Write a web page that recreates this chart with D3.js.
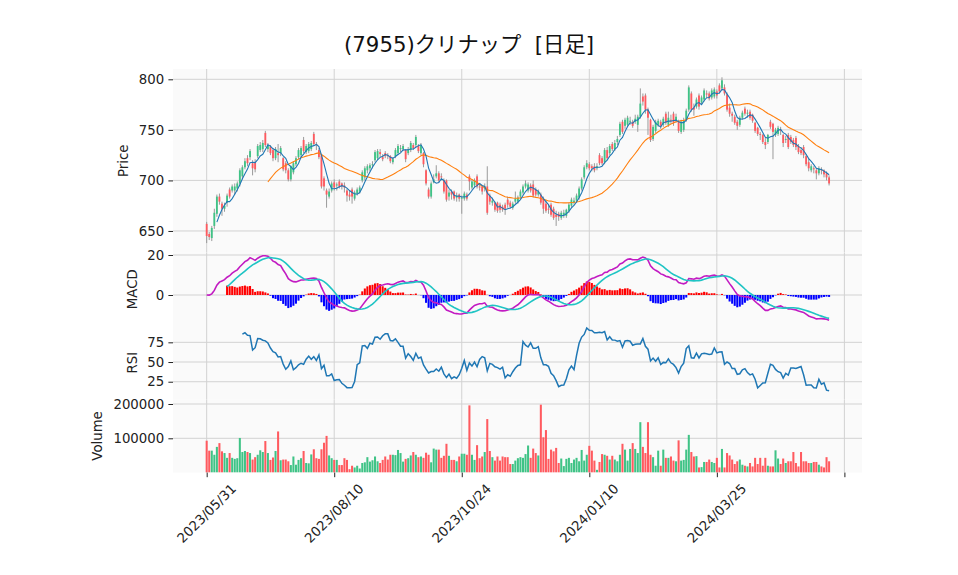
<!DOCTYPE html>
<html><head><meta charset="utf-8">
<script src="https://cdn.jsdelivr.net/npm/d3@7"></script>
<style>
body{margin:0;background:#fff;}
svg text{font-family:"DejaVu Sans","Noto Sans CJK JP",sans-serif;}
</style></head>
<body><svg id="c" width="958" height="575"></svg>
<script>
const title = "(7955)クリナップ  [日足]";
const tickIdx = [0, 50, 100, 150, 200, 250];
const tickLabels = ["2023/05/31", "2023/08/10", "2023/10/24", "2024/01/10", "2024/03/25", ""];
const priceTicks = [650, 700, 750, 800];
const macdTicks = [0, 20];
const rsiTicks = [25, 50, 75];
const volTicks = [100000, 200000];

const opens = [
657,647,643,655,667,684,677,672,678,691, 690,690,692,697,704,713,722,723,717,718,
724,730,731,747,731,733,730,722,727,727, 722,717,710,701,708,716,723,725,740,728,
729,731,746,736,730,725,702,690,684,690, 698,695,699,697,695,690,686,691,682,687,
689,700,703,710,712,715,720,722,728,723, 727,725,724,718,724,727,731,731,730,727,
730,735,735,734,727,727,710,691,684,698, 704,707,704,700,700,684,689,689,683,686,
682,682,686,704,693,695,704,694,694,692, 694,685,678,678,678,676,674,676,681,678,
673,679,679,684,688,694,690,695,696,691, 686,686,682,677,672,676,672,666,667,663,
666,665,670,675,678,680,683,692,703,713, 716,714,714,712,725,722,718,730,727,736,
731,738,745,758,754,755,758,758,758,755, 763,783,784,770,760,741,749,755,758,755,
766,755,760,766,759,758,748,750,760,770, 786,772,773,784,777,780,786,786,782,783,
788,794,791,792,785,772,766,763,758,755, 762,771,766,768,765,757,752,746,745,738,
738,758,756,745,746,750,745,740,745,743, 740,742,734,730,733,724,718,710,712,710,
707,711,710,707,703];
const highs = [
659,649,655,672,686,687,679,678,687,693, 696,697,699,712,715,722,725,731,720,721,
736,738,740,749,737,735,732,733,736,734, 723,719,712,715,719,724,732,734,743,736,
738,739,748,738,732,726,704,692,692,699, 701,698,701,698,698,692,690,693,690,693,
695,710,714,716,717,719,730,731,731,726, 729,727,725,723,732,736,735,736,731,733,
739,737,745,736,737,728,711,693,699,706, 715,709,707,702,701,691,691,690,688,687,
685,689,688,706,701,702,706,697,695,697, 714,687,683,679,679,678,676,678,684,680,
679,689,685,691,696,700,698,697,700,693, 691,688,684,680,676,678,674,670,669,670,
671,672,678,683,683,687,694,703,715,720, 718,716,717,717,727,724,732,733,736,738,
740,744,758,760,762,764,763,760,765,765, 791,786,786,772,761,755,760,761,760,763,
768,768,765,768,766,760,760,762,771,794, 788,776,782,786,784,791,789,788,791,792,
790,796,802,795,787,776,768,765,760,764, 769,773,770,770,766,758,753,748,746,742,
746,760,757,752,754,753,746,744,747,745, 742,744,736,733,735,726,722,716,714,712,
714,713,711,709,705];
const lows = [
638,641,640,652,664,676,665,669,674,682, 688,686,689,694,701,711,714,720,705,708,
722,728,728,733,728,725,719,720,718,724, 709,707,699,699,706,714,721,723,727,726,
727,729,734,730,721,692,690,673,682,688, 690,690,692,691,688,679,680,677,680,685,
687,698,700,707,709,712,718,720,723,719, 722,721,717,716,722,725,728,729,718,725,
728,730,733,727,725,713,695,682,682,697, 702,698,700,687,679,680,681,680,679,679,
667,680,680,690,691,693,692,690,686,689, 666,676,675,669,668,668,669,666,673,672,
671,677,677,682,686,692,688,688,683,684, 684,676,667,668,667,664,661,655,660,661,
663,663,668,673,676,678,681,690,701,711, 710,709,708,710,715,715,716,720,725,729,
729,735,743,746,751,753,755,752,756,748, 761,774,766,745,738,739,747,753,751,753,
755,753,756,754,757,747,746,748,758,768, 768,764,771,770,775,778,782,779,780,781,
781,786,789,784,768,763,758,755,750,753, 760,764,762,760,757,747,744,740,736,731,
736,751,721,743,744,745,733,737,731,736, 733,730,726,725,722,714,709,708,707,701,
705,706,703,700,695];
const closes = [
645,644,653,668,684,679,672,675,685,684, 694,694,697,710,713,719,717,729,712,711,
734,735,737,735,735,727,722,731,725,732, 711,710,701,714,717,722,730,732,729,734,
736,737,736,735,723,694,694,686,689,697, 693,696,694,694,693,685,684,684,688,691,
693,708,712,714,715,716,728,729,726,721, 724,724,719,721,730,734,732,734,721,731,
737,732,743,729,735,716,697,684,697,701, 707,700,703,689,681,688,686,682,685,682,
683,687,682,699,699,700,694,693,689,694, 668,679,680,671,670,671,671,672,676,674,
677,682,683,689,694,697,696,690,685,686, 689,678,672,670,671,666,663,664,664,668,
668,671,676,681,680,685,692,701,713,717, 712,712,710,714,717,717,730,722,734,731,
737,741,756,748,760,762,759,754,761,763, 776,778,770,762,740,753,758,759,754,761,
757,762,759,757,763,749,758,759,769,792, 770,770,780,773,782,789,785,781,789,790,
784,788,799,786,770,766,764,757,754,762, 767,766,767,762,759,749,746,745,738,735,
745,753,748,750,752,749,737,741,733,738, 735,733,728,727,725,716,712,714,711,707,
712,710,706,703,697];
const volumes = [
93000,64000,64000,52000,75000,86000,62000,57000,43000,57000,
43000,40000,42000,101000,60000,63000,60000,57000,38000,45000,
52000,65000,60000,92000,57000,37000,44000,63000,120000,36000,
38000,38000,33000,22000,47000,23000,37000,42000,63000,28000,
27000,53000,68000,42000,40000,68000,87000,107000,50000,42000,
37000,37000,22000,22000,42000,37000,10000,20000,15000,20000,
12000,28000,30000,45000,32000,36000,47000,33000,28000,37000,
47000,38000,52000,52000,51000,66000,57000,32000,40000,42000,
50000,60000,52000,45000,47000,43000,58000,52000,30000,70000,
67000,67000,43000,49000,84000,49000,37000,37000,33000,47000,
55000,55000,52000,196000,52000,37000,80000,42000,47000,60000,
156000,63000,45000,35000,47000,35000,47000,45000,45000,25000,
25000,35000,42000,45000,43000,54000,79000,43000,70000,57000,
50000,198000,103000,124000,40000,67000,62000,72000,28000,41000,
19000,40000,43000,28000,38000,43000,33000,66000,35000,52000,
78000,64000,35000,8000,31000,54000,52000,49000,38000,49000,
38000,33000,52000,84000,67000,35000,69000,86000,69000,57000,
147000,75000,57000,147000,52000,45000,20000,64000,20000,67000,
43000,43000,47000,35000,33000,94000,35000,37000,67000,110000,
60000,47000,48000,15000,16000,31000,31000,38000,31000,28000,
43000,15000,69000,15000,57000,50000,38000,25000,33000,38000,
23000,20000,18000,28000,18000,43000,25000,43000,20000,43000,
20000,18000,18000,65000,41000,25000,41000,28000,33000,33000,
60000,28000,18000,60000,33000,33000,28000,28000,31000,31000,
23000,18000,15000,45000,33000];

// ---------- indicators ----------
const n = closes.length;
function sma(arr, p){ return arr.map((_,i)=> i < p-1 ? null : d3.mean(arr.slice(i-p+1,i+1))); }
function ema(arr, span){ const a = 2/(span+1); const out=[]; arr.forEach((v,i)=>{ out.push(i===0? v : a*v+(1-a)*out[i-1]); }); return out; }
const ma5 = sma(closes,5), ma25 = sma(closes,25);
const e12 = ema(closes,12), e26 = ema(closes,26);
const macd = e12.map((v,i)=> v - e26[i]);
const signal = macd.map((_,i)=> i<8 ? null : d3.mean(macd.slice(i-8,i+1)));
const hist = macd.map((v,i)=> signal[i]==null ? null : v - signal[i]);
const rsi = closes.map((_,i)=>{
  if (i < 14) return null;
  let g=0,l=0;
  for (let k=i-13;k<=i;k++){ const d = closes[k]-closes[k-1]; if(d>0) g+=d; else l-=d; }
  return l===0 ? 100 : 100 - 100/(1+g/l);
});

// ---------- layout ----------
const svg = d3.select("#c");
const X0 = 173, X1 = 862;
const x = d3.scaleLinear().domain([-13.2, 256.9]).range([X0, X1]);
const step = x(1)-x(0);
const UP = "#3fc386", DOWN = "#ff5a5f", WICK = "#9a9a9a", GRID = "#d2d2d2", BG = "#fafafa";
const FS = 13.3;

const panels = {
  price: {y0:69, y1:252.5, y: d3.scaleLinear().domain([628.7, 810.2]).range([252.5, 69]), ticks: priceTicks, label:"Price", lx:123},
  macd:  {y0:252.5, y1:326, y: d3.scaleLinear().domain([-15.5, 21.25]).range([326, 252.5]), ticks: macdTicks, label:"MACD", lx:132},
  rsi:   {y0:326, y1:399.3, y: d3.scaleLinear().domain([2.7, 95.7]).range([399.3, 326]), ticks: rsiTicks, label:"RSI", lx:132},
  vol:   {y0:399.3, y1:472.6, y: d3.scaleLinear().domain([0, 213700]).range([472.6, 399.3]), ticks: volTicks, label:"Volume", lx:97}
};

svg.append("text").attr("x", 469).attr("y", 52).attr("text-anchor","middle")
  .attr("font-size", 21.3).attr("fill","#111").style("white-space","pre").text(title);

Object.entries(panels).forEach(([key,p])=>{
  const g = svg.append("g");
  g.append("rect").attr("x",X0).attr("y",p.y0).attr("width",X1-X0).attr("height",p.y1-p.y0).attr("fill",BG);
  svg.append("clipPath").attr("id","clip-"+key).append("rect")
    .attr("x",X0).attr("y",p.y0).attr("width",X1-X0).attr("height",p.y1-p.y0);
  g.selectAll(".hg").data(p.ticks).join("line")
    .attr("x1",X0).attr("x2",X1).attr("y1",d=>p.y(d)).attr("y2",d=>p.y(d))
    .attr("stroke",GRID).attr("stroke-width",1);
  g.selectAll(".vg").data(tickIdx).join("line")
    .attr("x1",d=>x(d)).attr("x2",d=>x(d)).attr("y1",p.y0).attr("y2",p.y1)
    .attr("stroke",GRID).attr("stroke-width",1);
  const ax = svg.append("g").attr("transform",`translate(${X0},0)`)
    .call(d3.axisLeft(p.y).tickValues(p.ticks).tickSize(4.6).tickPadding(4.2).tickFormat(d3.format("d")));
  ax.select(".domain").remove();
  ax.selectAll("text").attr("font-size",FS).attr("fill","#222").attr("font-family",null);
  ax.selectAll("line").attr("stroke","#222");
  svg.append("text").attr("transform",`translate(${p.lx},${(p.y0+p.y1)/2}) rotate(-90)`)
    .attr("text-anchor","middle").attr("dominant-baseline","central")
    .attr("font-size",FS).attr("fill","#222").text(p.label);
  p.g = svg.append("g").attr("clip-path",`url(#clip-${key})`);
});

// x axis
const xa = svg.append("g").attr("transform",`translate(0,${panels.vol.y1})`)
  .call(d3.axisBottom(x).tickValues(tickIdx).tickSize(4.6).tickFormat(""));
xa.select(".domain").remove();
xa.selectAll("line").attr("stroke","#222");
svg.selectAll(".xl").data(tickIdx).join("text")
  .attr("transform",d=>`translate(${x(d)},513.5) rotate(-45)`)
  .attr("text-anchor","middle").attr("dominant-baseline","central")
  .attr("font-size",FS).attr("fill","#222")
  .text((d,i)=>tickLabels[i]);

const idx = d3.range(n);
const isUp = i => closes[i] >= opens[i];

// candles
const pp = panels.price;
pp.g.selectAll(".wick").data(idx).join("line")
  .attr("x1",i=>x(i)).attr("x2",i=>x(i))
  .attr("y1",i=>pp.y(highs[i])).attr("y2",i=>pp.y(lows[i]))
  .attr("stroke",WICK).attr("stroke-width",1);
const bw = step*0.72;
pp.g.selectAll(".body").data(idx).join("rect")
  .attr("x",i=>x(i)-bw/2).attr("width",bw)
  .attr("y",i=>pp.y(Math.max(opens[i],closes[i])))
  .attr("height",i=>Math.max(0.8, Math.abs(pp.y(opens[i])-pp.y(closes[i]))))
  .attr("fill",i=>isUp(i)?UP:DOWN);
const lineP = d3.line().defined(d=>d[1]!=null).x(d=>x(d[0])).y(d=>pp.y(d[1]));
pp.g.append("path").attr("d",lineP(ma25.map((v,i)=>[i,v]))).attr("fill","none").attr("stroke","#ff7f0e").attr("stroke-width",1.1);
pp.g.append("path").attr("d",lineP(ma5.map((v,i)=>[i,v]))).attr("fill","none").attr("stroke","#1f77b4").attr("stroke-width",1.1);

// MACD
const pm = panels.macd;
const hw = step*0.8;
pm.g.selectAll(".h").data(idx.filter(i=>hist[i]!=null)).join("rect")
  .attr("x",i=>x(i)-hw/2).attr("width",hw)
  .attr("y",i=>pm.y(Math.max(0,hist[i])))
  .attr("height",i=>Math.abs(pm.y(hist[i])-pm.y(0)))
  .attr("fill",i=>hist[i]>=0?"#ff0000":"#0000ff");
const lineM = d3.line().defined(d=>d[1]!=null).x(d=>x(d[0])).y(d=>pm.y(d[1]));
pm.g.append("path").attr("d",lineM(macd.map((v,i)=>[i,v]))).attr("fill","none").attr("stroke","#c21bc2").attr("stroke-width",1.6);
pm.g.append("path").attr("d",lineM(signal.map((v,i)=>[i,v]))).attr("fill","none").attr("stroke","#1fc4c4").attr("stroke-width",1.6);

// RSI
const pr = panels.rsi;
const lineR = d3.line().defined(d=>d[1]!=null).x(d=>x(d[0])).y(d=>pr.y(d[1]));
pr.g.append("path").attr("d",lineR(rsi.map((v,i)=>[i,v]))).attr("fill","none").attr("stroke","#1f77b4").attr("stroke-width",1.5);

// Volume
const pv = panels.vol;
const vw = step*0.8;
pv.g.selectAll(".v").data(idx).join("rect")
  .attr("x",i=>x(i)-vw/2).attr("width",vw)
  .attr("y",i=>pv.y(volumes[i])).attr("height",i=>pv.y(0)-pv.y(volumes[i]))
  .attr("fill",i=>isUp(i)?UP:DOWN);
</script>
</body></html>
